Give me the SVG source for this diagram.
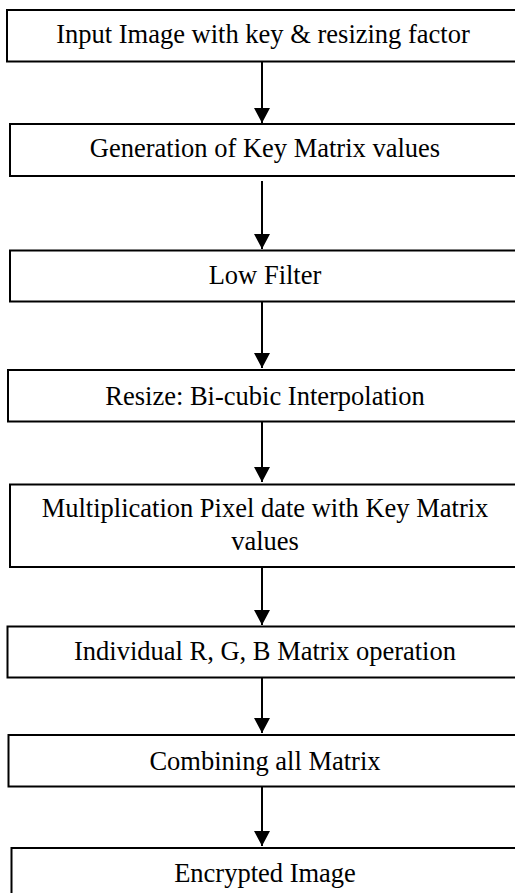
<svg xmlns="http://www.w3.org/2000/svg" width="515" height="893" viewBox="0 0 515 893">
<style>
.box{fill:#fff;stroke:#000;stroke-width:2}
.lbl{font-family:'Liberation Serif','Times New Roman','DejaVu Serif',serif;font-size:26.5px;fill:#000;text-anchor:middle}
.conn{stroke:#000;stroke-width:2;fill:none;marker-end:url(#ah)}
</style>
<defs>
<marker id="ah" markerUnits="userSpaceOnUse" markerWidth="16" markerHeight="16" viewBox="0 0 16 16" refX="15" refY="8" orient="auto">
<path d="M0,0 L15,8 L0,16 Z" fill="#000"/>
</marker>
</defs>
<rect width="515" height="893" fill="#fff"/>
<g id="connectors">
<line class="conn" x1="262" y1="61.5" x2="262" y2="123"/>
<line class="conn" x1="262" y1="181" x2="262" y2="249"/>
<line class="conn" x1="262" y1="301.5" x2="262" y2="368"/>
<line class="conn" x1="262" y1="420" x2="262" y2="482"/>
<line class="conn" x1="262" y1="563" x2="262" y2="625"/>
<line class="conn" x1="262" y1="675" x2="262" y2="733"/>
<line class="conn" x1="262" y1="785" x2="262" y2="846"/>
</g>
<g id="n1"><rect class="box" x="7" y="10" width="520" height="51.5"/><text class="lbl" x="263" y="43">Input Image with key &amp; resizing factor</text></g>
<g id="n2"><rect class="box" x="10" y="124" width="520" height="52"/><text class="lbl" x="265" y="157">Generation of Key Matrix values</text></g>
<g id="n3"><rect class="box" x="10" y="250.5" width="520" height="51"/><text class="lbl" x="265" y="284">Low Filter</text></g>
<g id="n4"><rect class="box" x="8" y="370" width="520" height="51.5"/><text class="lbl" x="265" y="405">Resize: Bi-cubic Interpolation</text></g>
<g id="n5"><rect class="box" x="10" y="484.5" width="520" height="82.5"/><text class="lbl" x="265" y="517">Multiplication Pixel date with Key Matrix</text><text class="lbl" x="265" y="550">values</text></g>
<g id="n6"><rect class="box" x="7.5" y="626.5" width="520" height="51"/><text class="lbl" x="265" y="660">Individual R, G, B Matrix operation</text></g>
<g id="n7"><rect class="box" x="8.5" y="735" width="520" height="51.5"/><text class="lbl" x="265" y="770">Combining all Matrix</text></g>
<g id="n8"><rect class="box" x="11.5" y="848" width="520" height="60"/><text class="lbl" x="265" y="882">Encrypted Image</text></g>
</svg>
